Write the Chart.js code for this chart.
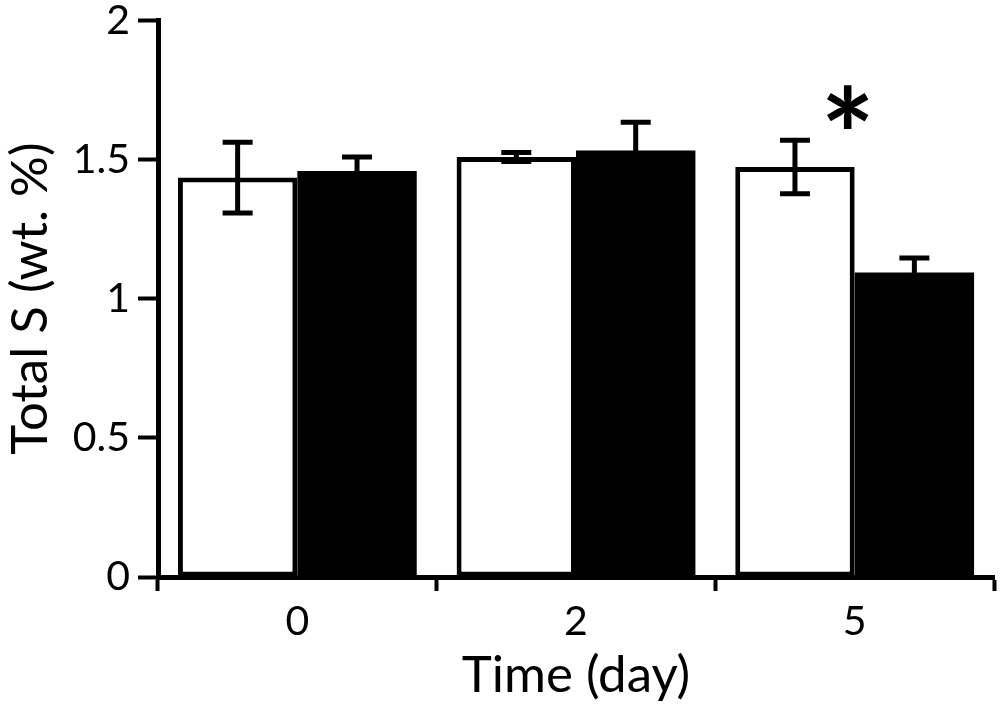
<!DOCTYPE html>
<html>
<head>
<meta charset="utf-8">
<style>
  html, body { margin: 0; padding: 0; background: #fff; }
  #wrap { width: 1000px; height: 710px; }
</style>
<script src="https://cdn.jsdelivr.net/npm/chart.js@4.4.1/dist/chart.umd.min.js"></script>
</head>
<body>
<div id="wrap"><canvas id="c" width="1000" height="710"></canvas></div>
<script>
const categories = ["0", "2", "5"];
const seriesA = [1.435, 1.509, 1.473];   // white bars
const errorsA = [0.127, 0.016, 0.096];
const seriesB = [1.459, 1.532, 1.094];   // black bars
const errorsB = [0.050, 0.102, 0.052];
const yTicks = [0, 0.5, 1, 1.5, 2];
const markers = [{ category: 2, value: 1.67, text: "*" }];

const FONT = "Lato";

const errorBarPlugin = {
  id: "errorBars",
  afterDatasetsDraw(chart) {
    const ctx = chart.ctx;
    const yScale = chart.scales.y;
    const errs = [errorsA, errorsB];
    ctx.save();
    ctx.strokeStyle = "#000";
    ctx.lineWidth = 5;
    ctx.lineCap = "butt";
    chart.data.datasets.forEach((ds, di) => {
      const meta = chart.getDatasetMeta(di);
      meta.data.forEach((bar, i) => {
        const v = ds.data[i];
        const e = errs[di][i];
        const x = bar.x;
        const yTop = yScale.getPixelForValue(v + e);
        const yBot = yScale.getPixelForValue(v - e);
        const cap = 15;
        ctx.beginPath();
        ctx.moveTo(x, yTop); ctx.lineTo(x, yBot);
        ctx.moveTo(x - cap, yTop); ctx.lineTo(x + cap, yTop);
        ctx.moveTo(x - cap, yBot); ctx.lineTo(x + cap, yBot);
        ctx.stroke();
      });
    });
    // significance markers
    ctx.fillStyle = "#000";
    ctx.font = "bold 128px " + FONT;
    ctx.textAlign = "center";
    ctx.textBaseline = "alphabetic";
    markers.forEach(m => {
      const x = chart.scales.x.getPixelForValue(m.category) - 7;
      const y = yScale.getPixelForValue(m.value) + 71;
      ctx.fillText(m.text, x, y);
    });
    ctx.restore();
  }
};

new Chart(document.getElementById("c"), {
  type: "bar",
  data: {
    labels: categories,
    datasets: [
      { data: seriesA, backgroundColor: "#fff", borderColor: "#000", borderWidth: 5, borderSkipped: false, inflateAmount: 0 },
      { data: seriesB, backgroundColor: "#000", borderColor: "#000", borderWidth: 0 }
    ]
  },
  options: {
    responsive: false,
    animation: false,
    devicePixelRatio: 1,
    layout: { padding: { top: 20, right: 6, left: 0, bottom: 0 } },
    plugins: { legend: { display: false }, tooltip: { enabled: false } },
    datasets: { bar: { categoryPercentage: 0.857, barPercentage: 1.0 } },
    scales: {
      x: {
        grid: { display: true, drawOnChartArea: false, drawTicks: true, tickLength: 14, tickWidth: 4, tickColor: "#000", offset: true },
        border: { display: true, color: "#000", width: 5 },
        ticks: { color: "#000", font: { family: FONT, size: 41 }, padding: 6 },
        title: { display: true, text: "Time (day)", color: "#000", font: { family: FONT, size: 51 }, padding: { top: 0, bottom: 4 } },
        afterFit(scale) { scale.height = 133; }
      },
      y: {
        min: 0, max: 2,
        afterBuildTicks(scale) { scale.ticks = yTicks.map(v => ({ value: v })); },
        grid: { display: true, drawOnChartArea: false, drawTicks: true, tickLength: 20, tickWidth: 4, tickColor: "#000" },
        border: { display: true, color: "#000", width: 5 },
        ticks: { color: "#000", font: { family: FONT, size: 41, lineHeight: 0.6 }, padding: 8, callback: v => String(v) },
        title: { display: true, text: "Total S (wt. %)", color: "#000", font: { family: FONT, size: 51 }, padding: { top: 0, bottom: 0 } },
        afterFit(scale) { scale.width = 158; }
      }
    }
  },
  plugins: [errorBarPlugin]
});
</script>
</body>
</html>
